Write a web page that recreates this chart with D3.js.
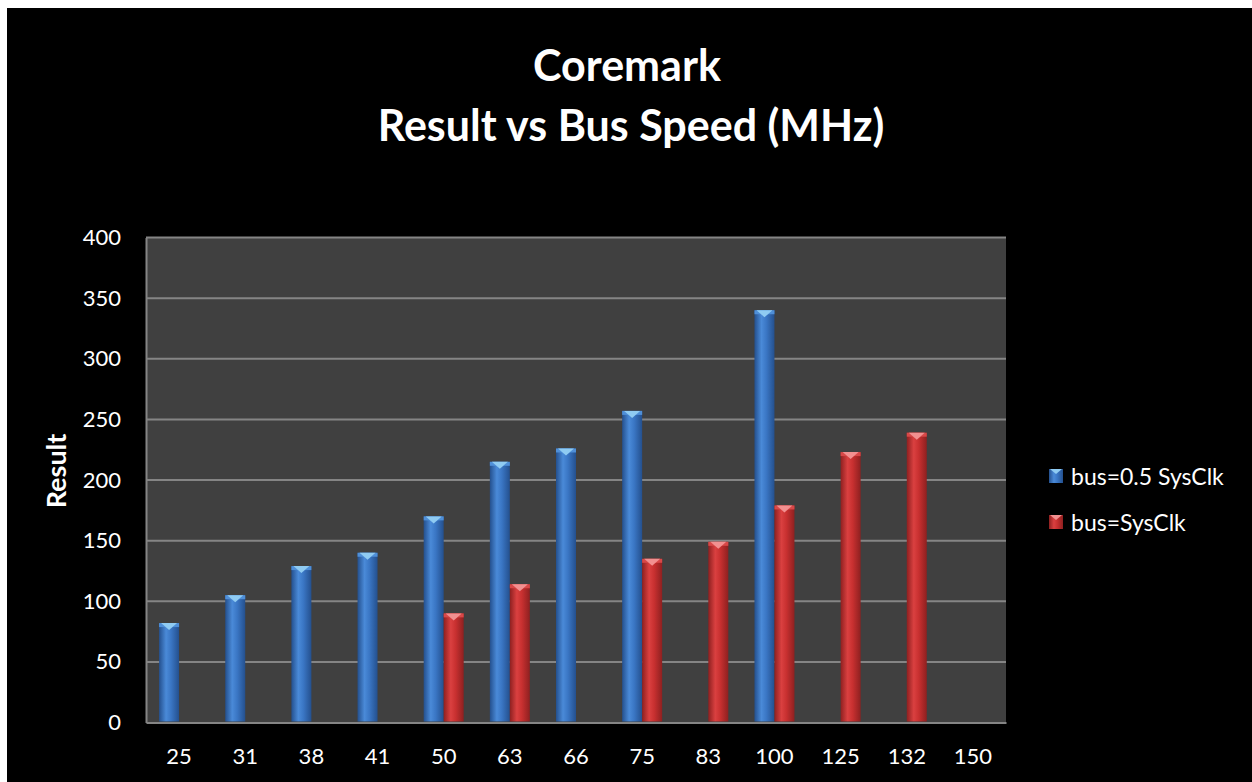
<!DOCTYPE html>
<meta charset="utf-8">
<script src="https://d3js.org/d3.v7.min.js"></script>
<style>
  body { margin: 0; background: #fff; }
  svg text { font-family: Lato, "Open Sans", sans-serif; fill: #fff; }
</style>
<div id="chart"></div>
<script>
// categories (bus speed MHz) and the two series
var speeds = ["25", "31", "38", "41", "50", "63", "66", "75", "83", "100", "125", "132", "150"];
var halfClk = [82, 105, 129, 140, 170, 215, 226, 257, null, 340, null, null, null];
var fullClk = [null, null, null, null, 90, 114, null, 135, 149, 179, 223, 239, null];
var seriesNames = ["bus=0.5 SysClk", "bus=SysClk"];
var yTicks = [0, 50, 100, 150, 200, 250, 300, 350, 400];

var W = 1252, H = 782;
var margin = {top: 237.5, right: 246, bottom: 59.5, left: 146};
var width = W - margin.left - margin.right,
    height = H - margin.top - margin.bottom;

var svg = d3.select("#chart").append("svg")
  .attr("width", W).attr("height", H);

// black chart area (white strip left/top like the original)
svg.append("rect").attr("x", 7).attr("y", 8).attr("width", W - 7).attr("height", H - 8).attr("fill", "#000");

var defs = svg.append("defs");
function cyl(id, edge, mid, light) {
  var g = defs.append("linearGradient").attr("id", id).attr("x1", 0).attr("x2", 1).attr("y1", 0).attr("y2", 0);
  g.append("stop").attr("offset", "0%").attr("stop-color", edge);
  g.append("stop").attr("offset", "35%").attr("stop-color", light);
  g.append("stop").attr("offset", "60%").attr("stop-color", mid);
  g.append("stop").attr("offset", "100%").attr("stop-color", edge);
}
cyl("gBlue", "#24508e", "#3a76c4", "#4a8ad8");
cyl("gRed", "#8e2020", "#c83030", "#da4040");

var colors = [
  {fill: "url(#gBlue)", cap: "#8fcbf2", capEdge: "#4f8fd8"},
  {fill: "url(#gRed)", cap: "#f29090", capEdge: "#d84848"}
];

var g = svg.append("g").attr("transform", "translate(" + margin.left + "," + margin.top + ")");

var x = d3.scaleBand().domain(speeds).range([0, width]);
var y = d3.scaleLinear().domain([0, 400]).range([height, 0]);
var barW = 20;

g.append("rect").attr("width", width).attr("height", height).attr("fill", "#404040");

// gridlines
g.selectAll(".grid").data(yTicks.slice(1)).enter().append("line")
  .attr("x1", 0).attr("x2", width)
  .attr("y1", function(d) { return y(d); }).attr("y2", function(d) { return y(d); })
  .attr("stroke", "#858585").attr("stroke-width", 2);

// y axis
var yAxis = g.append("g").call(d3.axisLeft(y).tickValues(yTicks).tickSize(0).tickPadding(25));
yAxis.select(".domain").attr("stroke", "#858585").attr("stroke-width", 2);
yAxis.selectAll("text").style("font-size", "22px").attr("fill", "#fff");

// x axis
var xAxis = g.append("g").attr("transform", "translate(0," + height + ")")
  .call(d3.axisBottom(x).tickSize(0).tickPadding(26));
xAxis.select(".domain").attr("stroke", "#858585").attr("stroke-width", 2);
xAxis.selectAll("text").style("font-size", "22px").attr("fill", "#fff");

// bars
var data = [halfClk, fullClk];
data.forEach(function(vals, s) {
  var c = colors[s];
  var pts = speeds.map(function(k, i) { return {k: k, v: vals[i]}; }).filter(function(d) { return d.v != null; });
  var bars = g.append("g").selectAll("g.bar").data(pts).enter().append("g")
    .attr("transform", function(d) { return "translate(" + (x(d.k) + x.bandwidth() / 2 - barW + s * barW) + ",0)"; });
  bars.append("rect")
    .attr("y", function(d) { return y(d.v); })
    .attr("width", barW)
    .attr("height", function(d) { return height - y(d.v) - 1; })
    .attr("fill", c.fill);
  // top cap
  bars.append("rect")
    .attr("y", function(d) { return y(d.v); })
    .attr("width", barW).attr("height", 4).attr("fill", c.capEdge);
  bars.append("path")
    .attr("d", function(d) { var t = y(d.v); return "M2," + t + "L" + (barW - 2) + "," + t + "L" + (barW / 2) + "," + (t + 7) + "Z"; })
    .attr("fill", c.cap);
});

// title
svg.append("text").attr("x", 627).attr("y", 81).attr("text-anchor", "middle")
  .style("font-size", "43px").style("font-weight", "bold").text("Coremark");
svg.append("text").attr("x", 631).attr("y", 141).attr("text-anchor", "middle")
  .style("font-size", "43px").style("font-weight", "bold").text("Result vs Bus Speed (MHz)");

// y axis title
svg.append("text").attr("transform", "translate(66,471) rotate(-90)").attr("text-anchor", "middle")
  .style("font-size", "27px").style("font-weight", "bold").text("Result");

// legend
var leg = svg.append("g").attr("transform", "translate(1049,469)");
seriesNames.forEach(function(n, i) {
  var c = colors[i];
  var lg = leg.append("g").attr("transform", "translate(0," + (i * 46) + ")");
  lg.append("rect").attr("width", 14).attr("height", 14).attr("fill", c.fill);
  lg.append("path").attr("d", "M1,0L13,0L7,5Z").attr("fill", c.cap);
  lg.append("text").attr("x", 22).attr("y", 8).attr("dy", "0.35em")
    .style("font-size", "23px").text(n);
});
</script>
